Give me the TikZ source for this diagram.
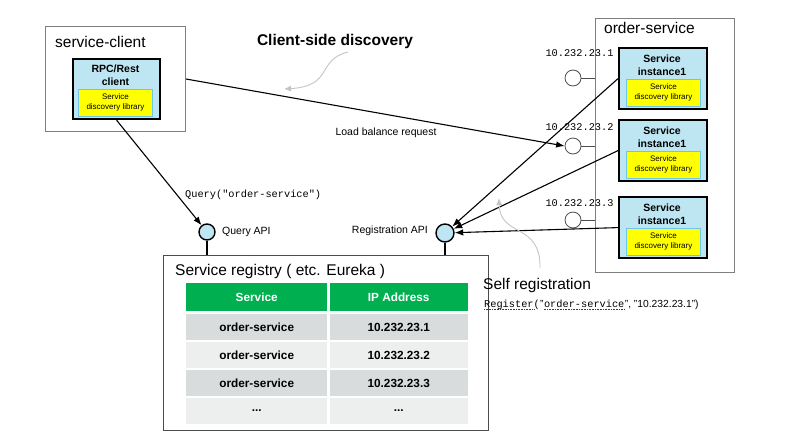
\documentclass[tikz,border=0pt]{standalone}
\usepackage{fontspec}
\setmainfont{Liberation Sans}
\setmonofont{Liberation Mono}
\usetikzlibrary{arrows.meta}
\definecolor{lblue}{HTML}{BEE6F2}
\definecolor{ybox}{HTML}{FFFF00}
\definecolor{yedge}{HTML}{6EC6E6}
\definecolor{gbox}{HTML}{7F7F7F}
\definecolor{thead}{HTML}{00B050}
\definecolor{rowa}{HTML}{D9DCDC}
\definecolor{rowb}{HTML}{EDEFEF}
\definecolor{curvegray}{HTML}{C4C4C4}
\newcommand{\myfs}[2]{\fontsize{#1}{#2}\selectfont}
\newcommand{\tdots}{...}
\begin{document}
\begin{tikzpicture}[x=1pt,y=-1pt,
  outerbox/.style={draw=gbox, line width=1pt, fill=white, inner sep=0, anchor=north west},
  compbox/.style={draw=black, line width=2.2pt, fill=lblue, inner sep=0, anchor=north west},
  libbox/.style={draw=yedge, line width=0.8pt, fill=ybox, inner sep=0, anchor=north west},
  port/.style={circle, draw=black, line width=1.4pt, fill=lblue, minimum size=16pt, inner sep=0},
  ipport/.style={circle, draw=black!70, line width=0.8pt, fill=white, minimum size=16pt, inner sep=0},
  conn/.style={draw=black, line width=1.1pt, -{Latex[length=8.5pt,width=6.5pt]}},
  hint/.style={draw=curvegray, line width=0.9pt, -{Latex[length=7pt,width=6pt]}},
  title/.style={font=\myfs{15.5}{18}, inner sep=0, anchor=west},
  small/.style={font=\myfs{10.5}{13}, inner sep=0},
  comptext/.style={font=\bfseries\myfs{10.5}{13}, align=center, inner sep=0},
  libtext/.style={font=\myfs{8}{10}, align=center, inner sep=0},
  mono/.style={font=\ttfamily\myfs{10.3}{12}, inner sep=0},
  cell/.style={inner sep=0, anchor=north west},
  celltext/.style={font=\bfseries\myfs{11.8}{13}, inner sep=0},
]
\useasboundingbox (0,0) rectangle (799,442);

% service-client
\node[outerbox, minimum width=140pt, minimum height=105pt] (client) at (45,26) {};
\node[title] (clientlbl) at (55,42) {service-client};
\node[compbox, minimum width=87pt, minimum height=60pt] (rpc) at (72,58) {};
\node[libbox, minimum width=74pt, minimum height=27pt] (rpclib) at (78,89) {};
\node[comptext] (rpctxt) at (115.5,75.5) {RPC/Rest\\client};
\node[libtext] (rpclibtxt) at (rpclib) {Service\\discovery library};

% title
\node[font=\bfseries\myfs{15.5}{18}, inner sep=0] (csd) at (335,41) {Client-side discovery};

% order-service
\node[outerbox, minimum width=139pt, minimum height=254pt] (os) at (595,18) {};
\node[title] (oslbl) at (604,28) {order-service};
\foreach \i/\t/\ipy/\ly in {1/47/78/53, 2/119/146/127, 3/196/220/203} {
  \node[compbox, minimum width=88pt, minimum height=61pt] (inst\i) at (618,\t) {};
  \node[libbox, minimum width=74pt, minimum height=27pt] (lib\i) at (626,\t+32) {};
  \node[comptext] (insttxt\i) at (662,\t+18.5) {Service\\instance1};
  \node[libtext] (libtxt\i) at (lib\i) {Service\\discovery library};
  \node[ipport] (ip\i) at (573,\ipy) {};
  \node[mono] (iplbl\i) at (579.5,\ly) {10.232.23.\i};
  \draw[draw=black!70, line width=0.8pt] (ip\i.east) -- (ip\i.east -| os.west);
}

% registry
\node[outerbox, draw=black!70, line width=1.2pt, minimum width=325pt, minimum height=175pt] (reg) at (163,255) {};
\node[title] (reglbl) at (175,271) {Service registry ( etc. Eureka )};
\node[cell, fill=thead, minimum width=141pt, minimum height=28pt] (h1) at (186,283) {};
\node[cell, fill=thead, minimum width=138pt, minimum height=28pt] (h2) at (329.5,283) {};
\node[celltext, text=white] (h1t) at (h1) {Service};
\node[celltext, text=white] (h2t) at (h2) {IP Address};
\foreach \r/\t/\c/\ip in {1/313.5/rowa/10.232.23.1, 2/341.5/rowb/10.232.23.2, 3/369.5/rowa/10.232.23.3, 4/397.5/rowb/\tdots} {
  \node[cell, fill=\c, minimum width=141pt, minimum height=26.5pt] (ca\r) at (186,\t) {};
  \node[cell, fill=\c, minimum width=138pt, minimum height=26.5pt] (cb\r) at (329.5,\t) {};
  \node[celltext] (cbt\r) at (cb\r) {\ip};
}
\node[celltext] (cat1) at (ca1) {order-service};
\node[celltext] (cat2) at (ca2) {order-service};
\node[celltext] (cat3) at (ca3) {order-service};
\node[celltext] (cat4) at (ca4) {\tdots};

% ports
\node[port] (qapi) at (207,232) {};
\node[port, minimum size=18pt] (rapi) at (445,233) {};
\draw[line width=1.4pt] (qapi.south) -- (qapi.south |- reg.north);
\draw[line width=1.4pt] (rapi.south) -- (rapi.south |- reg.north);
\node[small, anchor=west] (qlbl) at (222,232) {Query API};
\node[small, anchor=east] (rlbl) at (428,231) {Registration API};

% connectors
\draw[conn] (client.east) -- (ip2.west);
\node[small] (lblr) at (386,133) {Load balance request};
\draw[conn] (rpc.south) -- (qapi);
\node[mono, anchor=west] (qtxt) at (185,195) {Query("order-service")};
\draw[conn] (inst1.west) -- (rapi);
\draw[conn] (inst2.west) -- (rapi);
\draw[conn] (inst3.west) -- (rapi);

% hint curves
\coordinate (h1s) at (348,52);
\coordinate (h1e) at (284,89);
\draw[hint] (h1s) .. controls (316,60) and (334,86) .. (h1e);
\coordinate (h2s) at (540,268);
\coordinate (h2e) at (499,198);
\draw[hint] (h2s) .. controls (541,222) and (500,238) .. (h2e);

% self registration
\node[title] (selfreg) at (483,285) {Self registration};
\node[mono, anchor=base west] (rg1) at (484,307) {Register(};
\node[font=\myfs{10.3}{12}, inner sep=0, anchor=base west] (rg3) at (rg1.base east) {"};
\node[mono, anchor=base west] (rg4) at (rg3.base east) {order-service};
\node[font=\myfs{10.3}{12}, inner sep=0, anchor=base west] (rg5) at (rg4.base east) {", "10.232.23.1")};
\draw[red!80!black, line width=0.6pt, densely dotted] ([yshift=-2pt]rg1.base west) -- ([xshift=-6.2pt,yshift=-2pt]rg1.base east);
\draw[red!80!black, line width=0.6pt, densely dotted] ([yshift=-2pt]rg4.base west) -- ([yshift=-2pt]rg4.base east);
\end{tikzpicture}
\end{document}
